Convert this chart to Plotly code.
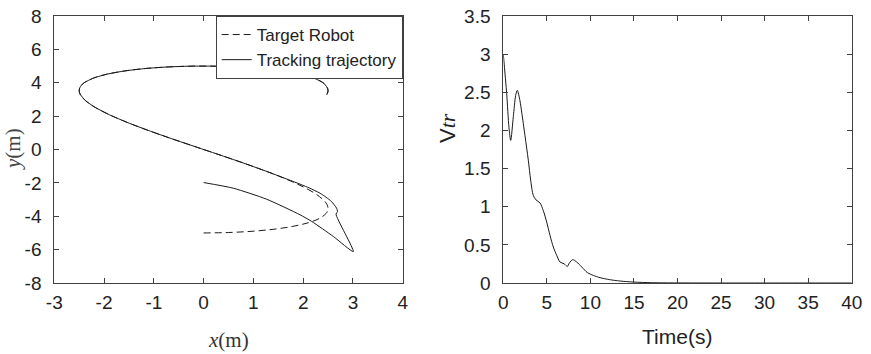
import plotly.graph_objects as go

# ---------------- data ----------------
target_x = [0.0, 0.497, 0.974, 1.412, 1.793, 2.104, 2.330, 2.464, 2.494, 2.499, 2.479, 2.435,
            2.273, 2.021, 1.689, 1.289, 0.837, 0.353, -0.146, -0.639, -1.106, -1.530,
            -1.892, -2.179, -2.379, -2.484, -2.500, -2.490, -2.456, -2.397, -2.209, -1.932,
            -1.578, -1.162, -0.699, -0.208, 0.291, 0.779, 1.235, 1.642, 1.984, 2.247,
            2.420, 2.496, 2.497, 2.473]
target_y = [-5.0, -4.975, -4.900, -4.777, -4.605, -4.388, -4.127, -3.824, -3.658, -3.484, -3.300, -3.108,
            -2.702, -2.268, -1.812, -1.338, -0.850, -0.354, 0.146, 0.644, 1.136, 1.617,
            2.081, 2.524, 2.943, 3.331, 3.513, 3.687, 3.851, 4.006, 4.284, 4.520,
            4.711, 4.855, 4.950, 4.996, 4.991, 4.938, 4.834, 4.682, 4.484, 4.241,
            3.955, 3.630, 3.452, 3.268]

track_x = [0.0, 0.597, 1.267, 1.936, 2.171, 2.606, 3.008,
           2.66, 2.69, 2.67, 2.57, 2.46, 2.34, 2.12, 1.75,
           1.289, 0.837, 0.353, -0.146, -0.639, -1.106, -1.530,
           -1.892, -2.179, -2.379, -2.484, -2.500, -2.490, -2.456, -2.397, -2.209, -1.932,
           -1.578, -1.162, -0.699, -0.208, 0.291, 0.779, 1.235, 1.642, 1.984, 2.247,
           2.420, 2.496, 2.497, 2.473]
track_y = [-1.98, -2.32, -2.98, -3.91, -4.31, -5.21, -6.12,
           -3.87, -3.72, -3.51, -3.12, -2.86, -2.62, -2.30, -1.86,
           -1.338, -0.850, -0.354, 0.146, 0.644, 1.136, 1.617,
           2.081, 2.524, 2.943, 3.331, 3.513, 3.687, 3.851, 4.006, 4.284, 4.520,
           4.711, 4.855, 4.950, 4.996, 4.991, 4.938, 4.834, 4.682, 4.484, 4.241,
           3.955, 3.630, 3.452, 3.268]

time_s = [0, 0.39, 0.65, 0.85, 1.15, 1.42, 1.61, 1.91, 2.11, 2.49, 2.87, 3.14, 3.44, 3.75,
          4.21, 4.59, 4.98, 5.36, 5.74, 6.13, 6.51, 6.97, 7.35, 7.58, 7.97, 8.43, 9.0,
          9.65, 10.33, 11.1, 12.2, 13.4, 15, 17, 20, 25, 30, 35, 40]
vtr = [3.0, 2.48, 2.04, 1.87, 2.18, 2.46, 2.525, 2.39, 2.24, 1.93, 1.61, 1.35, 1.15, 1.09,
       1.05, 0.95, 0.80, 0.625, 0.472, 0.363, 0.275, 0.253, 0.218, 0.262, 0.306, 0.275, 0.21,
       0.136, 0.10, 0.07, 0.044, 0.026, 0.012, 0.004, 0.001, 0, 0, 0, 0]

left_xticks = [-3, -2, -1, 0, 1, 2, 3, 4]
left_xtext = ["-3", "-2", "-1", "0", "1", "2", "3", "4"]
left_yticks = [-8, -6, -4, -2, 0, 2, 4, 6, 8]
left_ytext = ["-8", "-6", "-4", "-2", "0", "2", "4", "6", "8"]
right_xticks = [0, 5, 10, 15, 20, 25, 30, 35, 40]
right_xtext = ["0", "5", "10", "15", "20", "25", "30", "35", "40"]
right_yticks = [0, 0.5, 1, 1.5, 2, 2.5, 3, 3.5]
right_ytext = ["0", "0.5", "1", "1.5", "2", "2.5", "3", "3.5"]

# ---------------- figure ----------------
W, H = 871, 354
TOP, BOT = 16, 283          # plot area top/bottom in pixels
PLOT_H = BOT - TOP
L_DOM = [54.3 / W, 402.7 / W]
R_DOM = [503.3 / W, 851.7 / W]
LINE = "#1a1a1a"
AX = "#404040"
TICKFONT = dict(family="Liberation Sans, Arial, sans-serif", size=19, color="#222")


def py(v):  # pixel y -> paper y
    return (BOT - v) / PLOT_H


fig = go.Figure()
fig.add_trace(go.Scatter(x=target_x, y=target_y, mode="lines", name="Target Robot",
                         line=dict(color=LINE, width=1, dash="7px,4px", shape="spline", smoothing=1),
                         xaxis="x", yaxis="y"))
fig.add_trace(go.Scatter(x=track_x, y=track_y, mode="lines", name="Tracking trajectory",
                         line=dict(color=LINE, width=1, shape="spline", smoothing=0.6),
                         xaxis="x", yaxis="y"))
fig.add_trace(go.Scatter(x=time_s, y=vtr, mode="lines", showlegend=False,
                         line=dict(color=LINE, width=1, shape="spline", smoothing=0.8),
                         xaxis="x2", yaxis="y2"))

common = dict(showline=True, linecolor=AX, linewidth=1, mirror="ticks", ticks="inside",
              ticklen=5, tickcolor=AX, tickwidth=1, showgrid=False, zeroline=False,
              tickfont=TICKFONT, automargin=False, ticklabeloverflow="allow")

fig.update_layout(
    width=W, height=H, autosize=False,
    margin=dict(l=0, r=0, t=TOP, b=H - BOT, pad=0, autoexpand=False),
    paper_bgcolor="white", plot_bgcolor="white",
    xaxis=dict(domain=L_DOM, range=[-3, 4], tickvals=left_xticks, ticktext=left_xtext,
               anchor="y", ticklabelstandoff=2, **common),
    yaxis=dict(domain=[0, 1], range=[-8, 8], tickvals=left_yticks, ticktext=left_ytext,
               anchor="x", ticklabelstandoff=8, **common),
    xaxis2=dict(domain=R_DOM, range=[0, 40], tickvals=right_xticks, ticktext=right_xtext,
                anchor="y2", ticklabelstandoff=2, **common),
    yaxis2=dict(domain=[0, 1], range=[0, 3.5], tickvals=right_yticks, ticktext=right_ytext,
                anchor="x2", ticklabelstandoff=8, **common),
    legend=dict(x=L_DOM[1], xanchor="right", y=1, yanchor="top",
                bordercolor=AX, borderwidth=1, bgcolor="white",
                font=dict(family="Liberation Sans, Arial, sans-serif", size=17, color="#222"),
                tracegroupgap=0, itemwidth=30),
    showlegend=True,
)

serif = "Liberation Serif, Times New Roman, serif"
fig.add_annotation(text="<i>x</i>(m)", xref="paper", yref="paper",
                   x=(L_DOM[0] + L_DOM[1]) / 2, y=py(340), xanchor="center", yanchor="middle",
                   showarrow=False, font=dict(family=serif, size=21, color="#333"))
fig.add_annotation(text="<i>y</i>(m)", xref="paper", yref="paper", textangle=-90,
                   x=13 / W, y=py(149), xanchor="center", yanchor="middle",
                   showarrow=False, font=dict(family=serif, size=21, color="#444"))
fig.add_annotation(text="Time(s)", xref="paper", yref="paper",
                   x=(R_DOM[0] + R_DOM[1]) / 2, y=py(336), xanchor="center", yanchor="middle",
                   showarrow=False, font=dict(family="Liberation Sans, Arial, sans-serif", size=21, color="#222"))
fig.add_annotation(text="<span style='font-family:Liberation Sans'>V</span><i>tr</i>",
                   xref="paper", yref="paper", textangle=-90,
                   x=447 / W, y=py(128), xanchor="center", yanchor="middle",
                   showarrow=False, font=dict(family=serif, size=22, color="#222"))

fig.write_html("out.html", config={"displayModeBar": False},
               post_script="document.body.style.margin='0px';")
